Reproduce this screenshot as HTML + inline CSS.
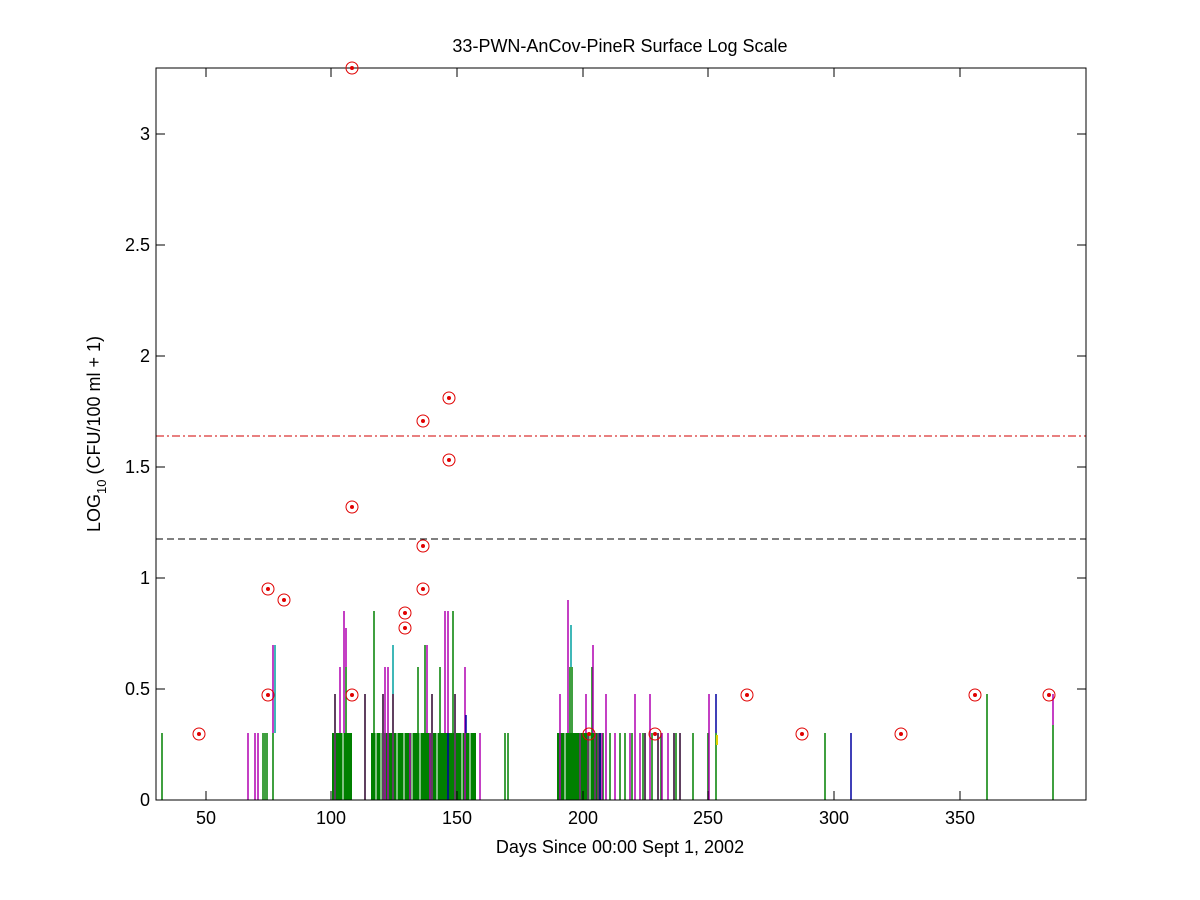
<!DOCTYPE html>
<html><head><meta charset="utf-8"><style>body{margin:0;background:#fff}svg{display:block}text{font-family:"Liberation Sans",Arial,sans-serif;fill:#000}</style></head>
<body>
<svg width="1200" height="900" xmlns="http://www.w3.org/2000/svg">
<rect width="1200" height="900" fill="#fff"/>
<g fill="#008000">
<rect x="332" y="733" width="20" height="67"/>
<rect x="371" y="733" width="105" height="67"/>
<rect x="557" y="733" width="44" height="67"/>
</g>
<g stroke="#fff" stroke-width="1">
<path d="M343 733V800M355 733V800M376 733V800M381 733V800M397 733V800M404 733V800M412 733V800M420 733V800M437 733V800M462 733V800M470 733V800M565 733V800M580 733V800M590 733V800"/>
</g>
<g stroke="#008000" stroke-width="1.5" fill="none">
<path d="M162 733V800M263 733V800M265 733V800M267 733V800M273 733V800M346 667V800M374 611V800M425 645V800M453 611V800M418 667V800M440 667V800M570 667V800M572 667V800M592 667V800M603 733V800M610 733V800M620 733V800M625 733V800M632 733V800M643 733V800M652 733V800M661 733V800M676 733V800M693 733V800M708 733V800M716 733V800M825 733V800M987 694V800M1053 725V800M558 733V800M505 733V800M508 733V800"/>
</g>
<g stroke="#00a0a0" stroke-width="1.5"><path d="M393 645V733M275 645V733M571 625V667"/></g>
<g stroke="#b000b0" stroke-width="1.5" fill="none">
<path d="M248 733V800M255 733V800M258 733V800M273 645V733M344 611V733M346 628V667M340 667V733M385 667V800M388 667V800M427 645V733M445 611V733M448 611V733M465 667V800M568 600V733M593 645V733M560 694V800M586 694V733M606 694V800M635 694V800M650 694V800M709 694V800M1053 694V725M602 733V800M615 733V800M630 733V800M640 733V800M662 733V800M668 733V800M410 733V800M480 733V800M430 733V800"/>
</g>
<g stroke="#604060" stroke-width="2" fill="none">
<path d="M335 694V800M365 694V800M383 694V800M393 694V800M432 694V800M455 694V800M580 733V800M595 733V800M598 733V800M645 733V800M658 733V800M674 733V800M680 733V800M588 733V800"/>
</g>
<g stroke="#0000a0" stroke-width="1.5"><path d="M851 733V800M716 694V733M466 715V733M600 733V800M448 733V800"/></g>
<path d="M717 735V745" stroke="#e0d000" stroke-width="2"/>
<line x1="156" y1="436" x2="1086" y2="436" stroke="#d00000" stroke-width="1" stroke-dasharray="8,3,2,3"/>
<line x1="156" y1="539" x2="1086" y2="539" stroke="#000" stroke-width="1" stroke-dasharray="7,4"/>
<rect x="156" y="68" width="930" height="732" fill="none" stroke="#000" stroke-width="1"/>
<g stroke="#000" stroke-width="1">
<path d="M206 800v-9M331 800v-9M457 800v-9M583 800v-9M708 800v-9M834 800v-9M960 800v-9M206 68v9M331 68v9M457 68v9M583 68v9M708 68v9M834 68v9M960 68v9"/>
<path d="M156 800h9M156 689h9M156 578h9M156 467h9M156 356h9M156 245h9M156 134h9M1086 800h-9M1086 689h-9M1086 578h-9M1086 467h-9M1086 356h-9M1086 245h-9M1086 134h-9"/>
</g>
<g fill="none" stroke="#e00000" stroke-width="1">
<circle cx="199" cy="734" r="6"/><circle cx="268" cy="589" r="6"/><circle cx="268" cy="695" r="6"/><circle cx="284" cy="600" r="6"/><circle cx="352" cy="68" r="6"/><circle cx="352" cy="507" r="6"/><circle cx="352" cy="695" r="6"/><circle cx="405" cy="613" r="6"/><circle cx="405" cy="628" r="6"/><circle cx="423" cy="421" r="6"/><circle cx="423" cy="546" r="6"/><circle cx="423" cy="589" r="6"/><circle cx="449" cy="398" r="6"/><circle cx="449" cy="460" r="6"/><circle cx="589" cy="734" r="6"/><circle cx="655" cy="734" r="6"/><circle cx="747" cy="695" r="6"/><circle cx="802" cy="734" r="6"/><circle cx="901" cy="734" r="6"/><circle cx="975" cy="695" r="6"/><circle cx="1049" cy="695" r="6"/>
</g>
<g fill="#e00000">
<circle cx="199" cy="734" r="2"/><circle cx="268" cy="589" r="2"/><circle cx="268" cy="695" r="2"/><circle cx="284" cy="600" r="2"/><circle cx="352" cy="68" r="2"/><circle cx="352" cy="507" r="2"/><circle cx="352" cy="695" r="2"/><circle cx="405" cy="613" r="2"/><circle cx="405" cy="628" r="2"/><circle cx="423" cy="421" r="2"/><circle cx="423" cy="546" r="2"/><circle cx="423" cy="589" r="2"/><circle cx="449" cy="398" r="2"/><circle cx="449" cy="460" r="2"/><circle cx="589" cy="734" r="2"/><circle cx="655" cy="734" r="2"/><circle cx="747" cy="695" r="2"/><circle cx="802" cy="734" r="2"/><circle cx="901" cy="734" r="2"/><circle cx="975" cy="695" r="2"/><circle cx="1049" cy="695" r="2"/>
</g>
<g font-size="18" text-anchor="middle">
<text x="206" y="824">50</text><text x="331" y="824">100</text><text x="457" y="824">150</text><text x="583" y="824">200</text><text x="708" y="824">250</text><text x="834" y="824">300</text><text x="960" y="824">350</text>
</g>
<g font-size="18" text-anchor="end">
<text x="150" y="806">0</text><text x="150" y="695">0.5</text><text x="150" y="584">1</text><text x="150" y="473">1.5</text><text x="150" y="362">2</text><text x="150" y="251">2.5</text><text x="150" y="140">3</text>
</g>
<text x="620" y="52" font-size="18" text-anchor="middle">33-PWN-AnCov-PineR Surface Log Scale</text>
<text x="620" y="853" font-size="18" text-anchor="middle">Days Since 00:00 Sept 1, 2002</text>
<text transform="translate(100,434) rotate(-90)" font-size="18" text-anchor="middle">LOG<tspan font-size="13" dy="6">10</tspan><tspan dy="-6"> (CFU/100 ml + 1)</tspan></text>
</svg>
</body></html>
